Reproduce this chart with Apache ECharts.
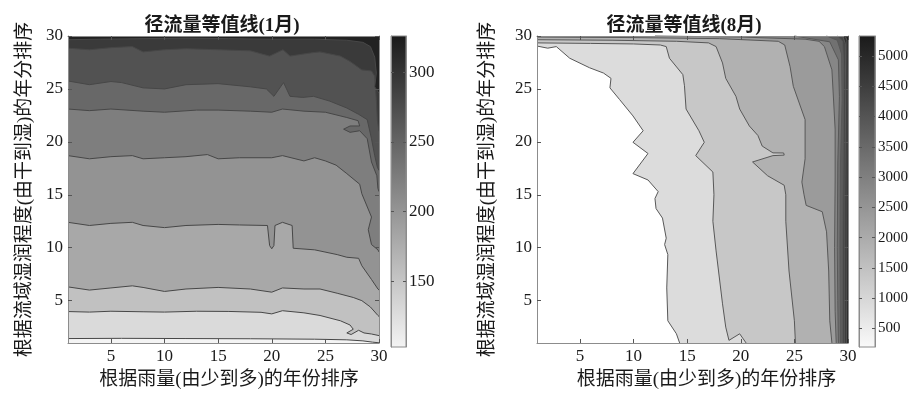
<!DOCTYPE html>
<html>
<head>
<meta charset="utf-8">
<script src="https://cdn.jsdelivr.net/npm/echarts@6/dist/echarts.min.js"></script>
<style>
html, body { margin: 0; padding: 0; background: #fff; }
#main { width: 916px; height: 395px; }
</style>
</head>
<body>
<div id="main"></div>
<script>
// 坐标刻度
const tickValues = [5, 10, 15, 20, 25, 30];

// 1月 色标
const janRange = [103, 326];
const janTicks = [150, 200, 250, 300];

// 8月 色标
const augRange = [192, 5330];
const augTicks = [500, 1000, 1500, 2000, 2500, 3000, 3500, 4000, 4500, 5000];

// 1月 等值线 (由低到高), 点为 [雨量序号, 湿润序号]
const janLines = [
    [[1,1.42],[6,1.44],[12,1.42],[18,1.4],[24,1.36],[27,1.3],[28.5,1.2],[29.4,1.08],[30,1.02]],
    [[1,3.97],[3,3.92],[5,4.0],[8,3.95],[10,3.92],[13,4.0],[16,3.98],[19,3.9],[20,3.75],[21,4.05],[23,3.85],[24.5,3.6],[26.4,3.1],[27.3,2.7],[27.6,2.3],[27.0,1.95],[27.4,1.8],[28.1,2.2],[28.6,1.95],[29.3,1.85],[30,1.7]],
    [[1,6.3],[3,6.0],[5,6.2],[7,6.4],[8,6.25],[10,5.87],[12,6.1],[15,6.25],[18,6.1],[20,5.8],[21,6.2],[23,6.1],[24.5,6.1],[26.1,5.7],[27.6,5.3],[28.4,5.0],[29.2,4.4],[29.9,3.6],[30,3.5]],
    [[1,12.4],[3,12.1],[5,12.3],[7,12.4],[8,12.1],[10,11.9],[12,12.1],[15,12.2],[17,12.15],[19.6,12.1],[19.8,10.2],[20.0,9.9],[20.2,10.2],[20.3,12.1],[21.0,12.4],[21.9,12.1],[22.0,9.95],[24,9.8],[26.1,9.35],[27.0,9.1],[28.1,9.0],[28.4,8.3],[29.3,7.0],[29.9,6.1],[30,6.0]],
    [[1,18.7],[3,18.4],[5,18.6],[7,18.7],[8,18.4],[10,18.5],[12,18.6],[14,18.8],[15,18.4],[17,18.5],[20,18.5],[21,18.7],[23,18.2],[24,18.5],[25,18.2],[26,17.8],[27,17.0],[28.2,16.0],[28.4,15.1],[29.3,12.9],[29.0,11.7],[29.3,10.3],[29.9,9.8],[30,9.6]],
    [[1,23.1],[3,22.95],[5,23.1],[8,22.9],[10,22.8],[13,23.0],[15,23.0],[18,22.9],[20,22.8],[21,23.1],[23,22.9],[25,22.8],[27,22.3],[28.05,22.0],[28.2,21.5],[27.3,21.5],[26.7,21.2],[27.3,20.9],[28.2,21.05],[28.9,20.3],[29.3,18.1],[29.8,16.8],[29.9,15.6],[30,15.3]],
    [[1,25.75],[3,25.4],[5,25.7],[6,25.6],[8,25.1],[10,25.0],[12,25.4],[15,25.5],[18,25.2],[19.5,25.0],[20.2,24.3],[21.1,25.6],[21.7,24.3],[22.9,24.2],[23.9,24.3],[25.4,23.85],[27.0,23.2],[28.1,22.6],[28.9,22.1],[29.3,20.3],[29.6,18.7],[29.85,17.6],[30,17.3]],
    [[1,28.85],[3,28.7],[5,28.9],[7,29.0],[8,28.5],[10,28.7],[12,28.8],[15,28.7],[18,28.6],[19.8,28.1],[21.05,28.7],[21.7,28.1],[23.6,28.4],[24.5,28.5],[26.4,28.1],[27.3,27.6],[28.4,26.8],[29.3,26.7],[29.6,26.2],[29.75,24.0],[29.85,22.0],[30,21.0]],
    [[1,29.65],[4,29.7],[8,29.75],[12,29.8],[16,29.75],[20,29.7],[24,29.7],[27,29.6],[28.5,29.4],[29.2,29.0],[29.6,28.0],[29.75,26.5],[29.6,25.2],[30,24.6]]
];

// 8月 等值线 (由低到高)
const augLines = [
    [[1,29.05],[2.0,28.85],[2.8,29.0],[4.05,27.9],[5.9,27.0],[7.2,26.5],[7.9,26.0],[7.8,25.1],[8.7,24.0],[9.95,22.45],[10.9,21.05],[9.95,19.96],[11.35,18.9],[9.95,17.0],[11.35,16.4],[12.3,15.3],[12.0,14.65],[12.1,13.7],[12.7,12.8],[13.05,10.9],[12.9,10.3],[13.2,9.35],[13.1,6.2],[13.2,3.1],[14.0,1.87],[14.3,1]],
    [[1,29.35],[6,29.3],[10,29.25],[12.5,29.15],[13.05,29.0],[13.35,27.9],[14.6,26.35],[14.75,25.3],[14.9,23.1],[16.1,21.05],[16.6,19.96],[15.8,18.7],[17.4,17.15],[17.5,15.0],[17.4,12.5],[17.7,9.7],[18.3,4.7],[18.6,2.5],[18.9,1.25],[19.9,1.87],[20.5,1]],
    [[1,29.65],[8,29.6],[14,29.5],[17,29.35],[17.7,29.0],[18.3,27.45],[18.6,26.0],[19.55,24.3],[19.9,23.1],[20.8,21.5],[21.6,20.6],[22.0,19.6],[23.0,18.96],[24.0,18.95],[24.05,18.75],[23.0,18.7],[21.1,18.1],[22.5,16.8],[24.05,15.9],[24.2,15.0],[24.2,12.5],[24.5,7.8],[25.0,3.1],[25.1,1]],
    [[1,29.9],[10,29.85],[18,29.75],[23.5,29.5],[24.1,29.15],[24.6,27.1],[24.9,25.25],[26.0,22.1],[26.0,18.4],[25.7,16.2],[25.9,15.0],[26.1,14.0],[27.6,13.4],[28.0,11.5],[28.2,7.8],[28.3,3.1],[28.5,1]],
    [[12,30],[20,29.9],[26,29.7],[27.3,29.5],[27.8,29.0],[28.5,26.8],[28.8,21.2],[28.8,16.5],[28.75,10],[28.8,4],[28.9,1]],
    [[25,30],[28.3,29.45],[29.1,27.75],[29.2,24.3],[29.05,18],[29.0,10],[29.05,5],[29.1,1]],
    [[28,30],[29.0,29.6],[29.4,28.3],[29.45,24],[29.3,18],[29.25,10],[29.3,1]],
    [[29.0,30],[29.5,29.5],[29.6,27],[29.55,18],[29.5,10],[29.5,1]],
    [[29.5,30],[29.75,29.3],[29.78,25],[29.72,15],[29.7,1]],
    [[29.75,30],[29.9,29.6],[29.92,25],[29.9,10],[29.88,1]]
];

// 样式
const FONT = '"Liberation Serif", "Noto Sans CJK SC", serif';
const TEXT = '#1a1a1a';
const BOX = '#8c8c8c';
const TICK = '#555';
const janFills = ['#dadada','#c1c1c1','#a8a8a8','#939393','#7e7e7e','#686868','#525252','#3a3a3a','#222222'];
const augFills = ['#dcdcdc','#c7c7c7','#b1b1b1','#9b9b9b','#868686','#717171','#5c5c5c','#474747','#323232','#1e1e1e'];

const chart = echarts.init(document.getElementById('main'));

function plotX(grid, pos, name, shift) {
    return {
        gridIndex: grid, type: 'value', min: 1, max: 30, position: pos, z: 10,
        axisLine: {show: true, onZero: false, lineStyle: {color: BOX}},
        axisTick: {show: true, inside: true, length: 4, customValues: tickValues, lineStyle: {color: TICK}},
        axisLabel: {show: pos === 'bottom', customValues: tickValues, margin: 5, fontFamily: FONT, fontSize: 17, color: TEXT},
        splitLine: {show: false},
        name: name, nameLocation: 'middle', nameGap: 28,
        nameTextStyle: {fontFamily: FONT, fontSize: 19, color: TEXT, padding: [0, 0, 0, shift || 0]}
    };
}

function plotY(grid, pos, name, gap) {
    return {
        gridIndex: grid, type: 'value', min: 1, max: 30, position: pos, z: 10,
        axisLine: {show: true, onZero: false, lineStyle: {color: BOX}},
        axisTick: {show: true, inside: true, length: 4, customValues: tickValues, lineStyle: {color: TICK}},
        axisLabel: {show: pos === 'left', customValues: tickValues, margin: 5, fontFamily: FONT, fontSize: 17, color: TEXT},
        splitLine: {show: false},
        name: name, nameLocation: 'middle', nameGap: gap,
        nameTextStyle: {fontFamily: FONT, fontSize: 19, color: TEXT}
    };
}

function barY(grid, pos, range, ticks, size) {
    return {
        gridIndex: grid, type: 'value', min: range[0], max: range[1], position: pos, z: 10,
        axisLine: {show: true, onZero: false, lineStyle: {color: BOX}},
        axisTick: {show: true, inside: true, length: 3, customValues: ticks, lineStyle: {color: TICK}},
        axisLabel: {show: pos === 'right', customValues: ticks, margin: 3, fontFamily: FONT, fontSize: size, color: TEXT,
            formatter: v => String(v)},
        splitLine: {show: false}
    };
}

function contourSeries(xi, yi, lines, fills, corners, lineColor) {
    return {
        type: 'custom', xAxisIndex: xi, yAxisIndex: yi, silent: true,
        data: lines.map((_, k) => [1, 1, k]),
        renderItem: function (params, api) {
            const k = api.value(2);
            const pts = lines[k].map(p => api.coord(p));
            const poly = pts.concat(corners.map(p => api.coord(p)));
            return {
                type: 'group',
                children: [
                    {type: 'polygon', z2: 2 * k, shape: {points: poly}, style: {fill: fills[k]}},
                    {type: 'polyline', z2: 2 * k + 1, shape: {points: pts}, style: {stroke: lineColor, lineWidth: 1, fill: null}}
                ]
            };
        }
    };
}

function colorbarSeries(xi, yi, range, light, dark) {
    return {
        type: 'custom', xAxisIndex: xi, yAxisIndex: yi, silent: true,
        data: [[0, range[0], 1, range[1]]],
        renderItem: function (params, api) {
            const p0 = api.coord([api.value(0), api.value(1)]);
            const p1 = api.coord([api.value(2), api.value(3)]);
            return {
                type: 'rect',
                shape: {x: p0[0], y: p1[1], width: p1[0] - p0[0], height: p0[1] - p1[1]},
                style: {
                    fill: {type: 'linear', x: 0, y: 1, x2: 0, y2: 0,
                        colorStops: [{offset: 0, color: light}, {offset: 1, color: dark}]},
                    stroke: BOX, lineWidth: 1
                }
            };
        }
    };
}

const xName = '根据雨量(由少到多)的年份排序';
const yName = '根据流域湿润程度(由干到湿)的年分排序';

const option = {
    animation: false,
    title: [
        {text: '径流量等值线(1月)', left: 217, top: 21, textAlign: 'center', textVerticalAlign: 'middle',
            textStyle: {fontFamily: FONT, fontSize: 19, fontWeight: 'bold', color: TEXT}},
        {text: '径流量等值线(8月)', left: 679, top: 21, textAlign: 'center', textVerticalAlign: 'middle',
            textStyle: {fontFamily: FONT, fontSize: 19, fontWeight: 'bold', color: TEXT}}
    ],
    grid: [
        {left: 68, top: 36, width: 311, height: 310, show: true, backgroundColor: '#f4f4f4', borderWidth: 0},
        {left: 391, top: 36, width: 15, height: 311},
        {left: 537, top: 36, width: 311, height: 310, show: true, backgroundColor: '#ffffff', borderWidth: 0},
        {left: 859, top: 36, width: 16, height: 311}
    ],
    xAxis: [
        plotX(0, 'bottom', xName, 11),
        plotX(0, 'top', ''),
        {gridIndex: 1, type: 'value', min: 0, max: 1, show: false},
        plotX(2, 'bottom', xName, 28),
        plotX(2, 'top', ''),
        {gridIndex: 3, type: 'value', min: 0, max: 1, show: false}
    ],
    yAxis: [
        plotY(0, 'left', yName, 33),
        plotY(0, 'right', '', 0),
        barY(1, 'right', janRange, janTicks, 17),
        barY(1, 'left', janRange, janTicks, 17),
        plotY(2, 'left', yName, 39),
        plotY(2, 'right', '', 0),
        barY(3, 'right', augRange, augTicks, 15),
        barY(3, 'left', augRange, augTicks, 15)
    ],
    series: [
        contourSeries(0, 0, janLines, janFills, [[30, 30], [1, 30]], '#474747'),
        colorbarSeries(2, 2, janRange, '#f4f4f4', '#1a1a1a'),
        contourSeries(3, 4, augLines, augFills, [[30, 1], [30, 30], [1, 30]], '#585858'),
        colorbarSeries(5, 6, augRange, '#fafafa', '#1a1a1a')
    ]
};

chart.setOption(option);
</script>
</body>
</html>
